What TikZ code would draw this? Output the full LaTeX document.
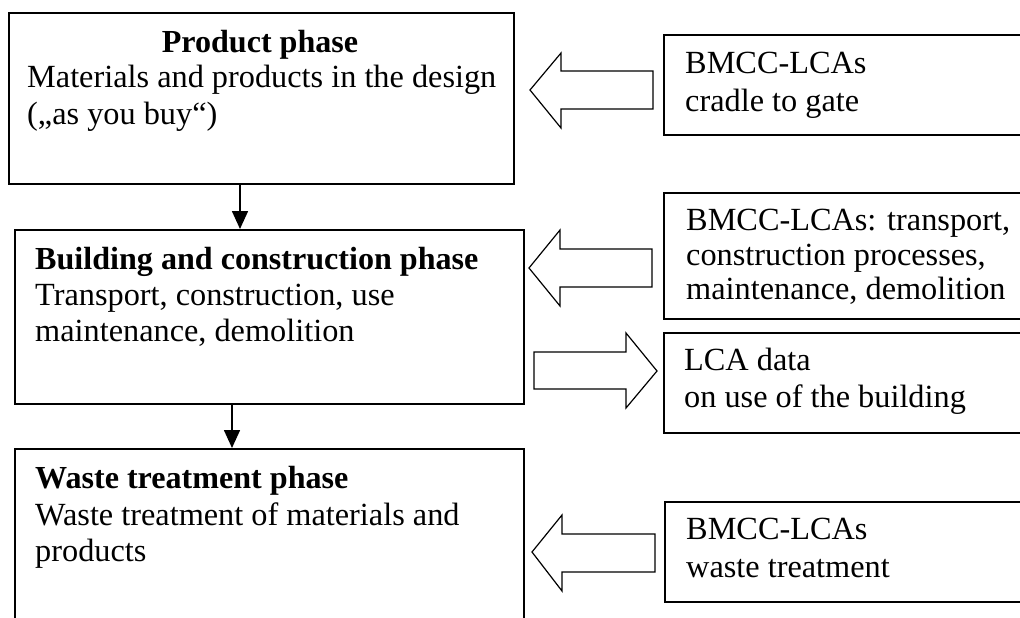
\documentclass[tikz,border=0pt]{standalone}
\usepackage{fontspec}
\setmainfont{Liberation Serif}
\usetikzlibrary{arrows.meta}
\begin{document}
\begin{tikzpicture}[x=1pt,y=-1pt,
  box/.style={draw,line width=1.6pt,inner sep=0pt,anchor=north west},
  txt/.style={anchor=base west,inner sep=0pt,font=\fontsize{32.3}{36}\selectfont},
  ttl/.style={anchor=base west,inner sep=0pt,font=\fontsize{32.1}{36}\selectfont\bfseries},
  blk/.style={draw,line width=1.2pt,line join=miter},
  flow/.style={line width=1.6pt,-{Triangle[length=18pt,width=16pt]}}]
\useasboundingbox (0,0) rectangle (1020,618);
\clip (0,0) rectangle (1020,618);
\fill[white] (0,0) rectangle (1020,618);
% phase boxes
\node[box,minimum width=505pt,minimum height=171pt] (b1) at (8,12) {};
\node[box,minimum width=509pt,minimum height=174pt] (b2) at (14,229) {};
\node[box,minimum width=509pt,minimum height=202pt] (b3) at (14,448) {};
% data boxes
\node[box,minimum width=377pt,minimum height=100pt] (r1) at (663,34) {};
\node[box,minimum width=377pt,minimum height=126pt] (r2) at (663,192) {};
\node[box,minimum width=377pt,minimum height=100pt] (r3) at (663,332) {};
\node[box,minimum width=377pt,minimum height=100pt] (r4) at (664,501) {};
% texts
\node[ttl,anchor=base] (t1a) at (260,53) {Product phase};
\node[txt] (t1b) at (27,88) {Materials and products in the design};
\node[txt] (t1c) at (27,124) {(„as you buy“)};
\node[ttl] (t2a) at (35,269) {Building and construction phase};
\node[txt] (t2b) at (35,305) {Transport, construction, use};
\node[txt] (t2c) at (35,341) {maintenance, demolition};
\node[ttl] (t3a) at (35,488) {Waste treatment phase};
\node[txt] (t3b) at (35,525) {Waste treatment of materials and};
\node[txt] (t3c) at (35,561) {products};
\node[txt] (s1a) at (685,74) {BMCC-LCAs};
\node[txt] (s1b) at (685,111) {cradle to gate};
\node[txt] (s2a) at (686,230) {BMCC-LCAs: transport,};
\node[txt] (s2b) at (686,265) {construction processes,};
\node[txt] (s2c) at (686,299) {maintenance, demolition};
\node[txt] (s3a) at (684,370) {LCA data};
\node[txt] (s3b) at (684,407) {on use of the building};
\node[txt] (s4a) at (686,539) {BMCC-LCAs};
\node[txt] (s4b) at (686,577) {waste treatment};
% flow arrows
\coordinate (d1) at (240,0);
\coordinate (d2) at (232,0);
\draw[flow] (b1.south -| d1) -- (b2.north -| d1);
\draw[flow] (b2.south -| d2) -- (b3.north -| d2);
% block arrows
\draw[blk] (530,90) -- (561,53) -- (561,71) -- (653,71) -- (653,109) -- (561,109) -- (561,128) -- cycle;
\draw[blk] (529,268) -- (560,230) -- (560,249) -- (652,249) -- (652,287) -- (560,287) -- (560,306) -- cycle;
\draw[blk] (657,371) -- (626,333) -- (626,352) -- (534,352) -- (534,389) -- (626,389) -- (626,408) -- cycle;
\draw[blk] (532,552) -- (562,515) -- (562,534) -- (655,534) -- (655,572) -- (562,572) -- (562,591) -- cycle;
\end{tikzpicture}
\end{document}
